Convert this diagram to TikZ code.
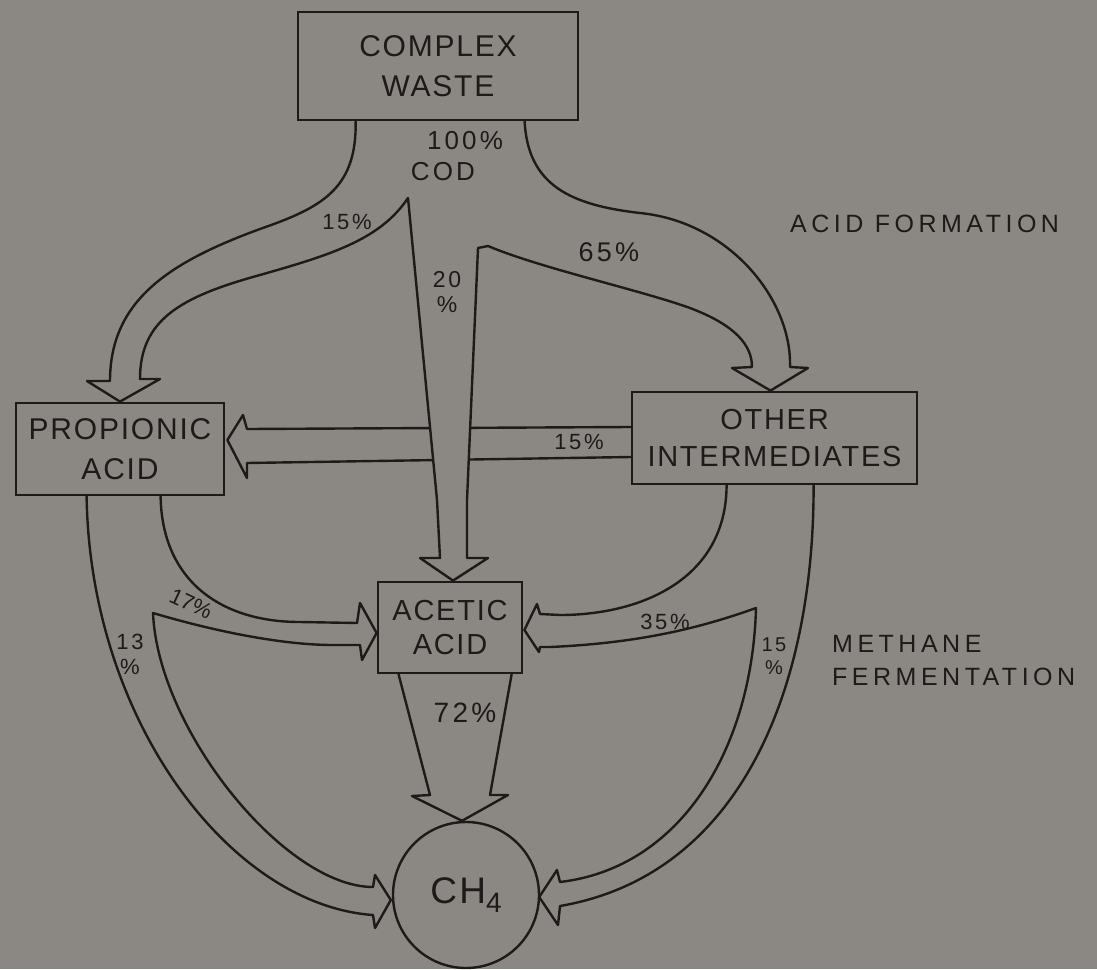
\documentclass[tikz,border=0pt]{standalone}
\usepackage{fontspec}
\setmainfont{Liberation Sans}
\newfontfamily\boxfont[LetterSpace=6]{Liberation Sans}
\newfontfamily\sidefont[LetterSpace=18]{Liberation Sans}
\newfontfamily\pctfont[LetterSpace=12]{Liberation Sans}
\usetikzlibrary{calc}
\definecolor{paper}{RGB}{139,136,131}
\definecolor{ink}{RGB}{28,27,26}
\tikzset{
  box/.style={draw=ink, line width=2.8pt, rectangle, inner sep=0pt, align=center,
              text=ink, font=\boxfont\fontsize{30}{40}\selectfont},
  band/.style={draw=ink, line width=2.4pt, line join=round, line cap=round},
  pct/.style={text=ink, inner sep=0pt, align=center, font=\pctfont\fontsize{22}{25}\selectfont},
  side/.style={text=ink, inner sep=0pt, align=left, anchor=west,
               font=\sidefont\fontsize{25}{33}\selectfont},
}
\begin{document}
\begin{tikzpicture}[x=1pt, y=-1pt]
% canvas
\fill[paper] (0,0) rectangle (1097,969);
\useasboundingbox (0,0) rectangle (1097,969);

% compartments
\node[box, minimum width=280pt, minimum height=108pt] (waste) at (438,66) {COMPLEX\\WASTE};
\node[box, minimum width=208pt, minimum height=92pt, font=\boxfont\fontsize{30}{40}\selectfont] (prop) at (120,449) {PROPIONIC\\ACID};
\node[box, minimum width=285pt, minimum height=92pt, font=\boxfont\fontsize{29}{37}\selectfont] (other) at (774.5,438) {OTHER\\INTERMEDIATES};
\node[box, minimum width=144pt, minimum height=91pt, font=\boxfont\fontsize{29}{34}\selectfont] (acetic) at (450,627.5) {ACETIC\\ACID};
\node[draw=ink, line width=2.4pt, circle, minimum size=146pt, inner sep=0pt, text=ink,
      font=\boxfont\fontsize{37}{40}\selectfont] (ch4) at (466,895)
      {CH\raisebox{-9pt}{\fontsize{28}{28}\selectfont 4}};

% 15 % transfer from the intermediates to propionic acid (passes under the 20 % stream)
\draw[band] (other.west |- 0,427) -- (247,429) -- (243,415) -- ($(prop.east)+(2,-9)$)
            -- (247,478) -- (247,463) -- (other.west |- 0,457);

% blank out the crossing under the 20 % stream
\fill[paper] (408,198) -- (437,500) -- (440,558) -- (467,558) -- (467,500) -- (478,248) -- cycle;

% complex waste -> propionic (15 %), acetic (20 %), intermediates (65 %)
\draw[band] ($(waste.south west)+(59,0)$)
      .. controls (357,190) and (320,208) .. (260,229)
      .. controls (170,262) and (110,300) .. (110,381)
      -- (87,381) -- (prop.north) -- (160,379) -- (140,379)
      .. controls (140,320) and (180,297) .. (260,275)
      .. controls (330,255) and (380,240) .. (408,198)
      -- (437,500) -- (440,558) -- (420,558) -- ($(acetic.north)+(3,0)$) -- (488,558) -- (467,558)
      -- (467,500) -- (478,248) -- (488,246)
      .. controls (540,268) and (640,290) .. (690,308)
      .. controls (735,325) and (752,345) .. (752,367)
      -- (732,368) -- ($(other.north)+(-4,0)$) -- (808,368) -- (790,367)
      .. controls (792,300) and (730,222) .. (640,213)
      .. controls (570,205) and (528,185) .. ($(waste.south west)+(228,0)$);

% propionic acid -> methane (13 %) and acetic acid (17 %)
\draw[band] ($(prop.south west)+(72,0)$)
      .. controls (90,720) and (230,905) .. (373,915)
      -- (375,928) -- ($(ch4.west)+(-1,5)$) -- (375,875) -- (373,887)
      .. controls (285,887) and (158,730) .. (153,613)
      .. controls (210,630) and (280,645) .. (333,645)
      -- (360,645) -- (362,660) -- ($(acetic.west)+(0,5.5)$) -- (360,603) -- (357,623) -- (300,622)
      .. controls (220,622) and (162,580) .. ($(prop.south west)+(146,0)$);

% intermediates -> acetic acid (35 %) and methane (15 %)
\draw[band] ($(other.south west)+(96,0)$)
      .. controls (726,580) and (640,615) .. (560,615)
      -- (540,614) -- (537,604) -- ($(acetic.east)+(1,2.5)$) -- (539,652) -- (540,647) -- (550,647)
      .. controls (640,643) and (700,628) .. (756,608)
      .. controls (752,750) and (680,868) .. (560,882)
      -- (557,870) -- ($(ch4.east)+(-1,2)$) -- (558,925) -- (560,906)
      .. controls (740,875) and (814,690) .. ($(other.south west)+(183,0)$);

% acetic acid -> methane (72 %)
\draw[band] ($(acetic.south west)+(22,0)$) -- (430,795) -- (412,796) -- ($(ch4.north)+(-4,0)$)
      -- (508,795) -- (490,795) -- ($(acetic.south west)+(135,0)$);

% shares of the COD
\node[pct, font=\pctfont\fontsize{26}{28}\selectfont] (l100) at (465,141) {100\%};
\node[pct, font=\pctfont\fontsize{26}{28}\selectfont] (lcod) at (443,172) {COD};
\node[pct] (l15a) at (347,222) {15\%};
\node[pct, font=\pctfont\fontsize{23}{25}\selectfont] (l20) at (447,292) {20\\\%};
\node[pct, font=\pctfont\fontsize{27}{30}\selectfont] (l65) at (609,252) {65\%};
\node[pct] (l15b) at (579,442) {15\%};
\node[pct, rotate=-25, font=\fontsize{22}{25}\selectfont] (l17) at (191,604) {17\%};
\node[pct] (l13) at (130,654) {13\\\%};
\node[pct] (l35) at (665,622) {35\%};
\node[pct, font=\pctfont\fontsize{28}{30}\selectfont] (l72) at (465,713) {72\%};
\node[pct, font=\pctfont\fontsize{20}{23}\selectfont] (l15c) at (774,656) {15\\\%};

% stage names
\node[side] (acidf) at (790,224) {ACID FORMATION};
\node[side] (meth) at (832,661) {METHANE\\FERMENTATION};
\end{tikzpicture}
\end{document}
